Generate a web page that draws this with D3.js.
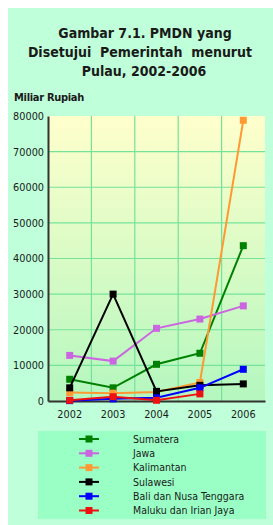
<!DOCTYPE html>
<html>
<head>
<meta charset="utf-8">
<script src="https://cdn.jsdelivr.net/npm/d3@7"></script>
<style>
  body { margin: 0; background: #fff; }
  text { font-family: "DejaVu Sans Condensed", "DejaVu Sans", sans-serif; fill: #1a1a1a; }
</style>
</head>
<body>
<div id="chart"></div>
<script>
// data (Miliar Rupiah)
const years = ["2002", "2003", "2004", "2005", "2006"];
const sumatera = [6100, 3700, 10300, 13400, 43600];
const jawa = [12800, 11200, 20400, 23000, 26700];
const kalimantan = [2400, 2200, 2500, 5200, 78800];
const sulawesi = [3700, 30000, 2700, 4400, 4800];
const bali = [100, 600, 900, 3700, 8900];
const maluku = [200, 1200, 200, 2000, null];
const yTicks = [0, 10000, 20000, 30000, 40000, 50000, 60000, 70000, 80000];

const series = [
    { name: "Sumatera", values: sumatera, color: "#008000" },
    { name: "Jawa", values: jawa, color: "#cc66e0" },
    { name: "Kalimantan", values: kalimantan, color: "#ff9933" },
    { name: "Sulawesi", values: sulawesi, color: "#000000" },
    { name: "Bali dan Nusa Tenggara", values: bali, color: "#0000ff" },
    { name: "Maluku dan Irian Jaya", values: maluku, color: "#ee1111" }
];

const width = 273, height = 525;
const plot = { left: 48, right: 265, top: 116, bottom: 401 };

const svg = d3.select("#chart").append("svg")
    .attr("width", width)
    .attr("height", height);

// outer background
svg.append("rect")
    .attr("x", 8).attr("y", 8)
    .attr("width", width - 8).attr("height", height - 8)
    .attr("fill", "#bfffd9");

// title
const title = ["Gambar 7.1. PMDN yang", "Disetujui  Pemerintah  menurut", "Pulau, 2002-2006"];
const titleX = [145, 140, 144];
svg.append("g").selectAll("text")
    .data(title)
    .enter().append("text")
    .attr("x", (d, i) => titleX[i])
    .attr("y", (d, i) => 38 + i * 19)
    .attr("text-anchor", "middle")
    .style("font-size", "14px")
    .style("font-weight", "bold")
    .style("white-space", "pre")
    .text(d => d);

svg.append("text")
    .attr("x", 14).attr("y", 101)
    .style("font-size", "11px")
    .style("font-weight", "bold")
    .style("letter-spacing", "-0.3px")
    .text("Miliar Rupiah");

// scales
const x = d3.scaleBand().domain(years).range([plot.left, plot.right]);
const y = d3.scaleLinear().domain([0, 80000]).range([plot.bottom, plot.top]);

// plot background gradient
const grad = svg.append("defs").append("linearGradient")
    .attr("id", "bg").attr("x1", 0).attr("y1", 0).attr("x2", 0).attr("y2", 1);
grad.append("stop").attr("offset", "0%").attr("stop-color", "#ffffcc");
grad.append("stop").attr("offset", "100%").attr("stop-color", "#b4f7bf");

svg.append("rect")
    .attr("x", plot.left).attr("y", plot.top)
    .attr("width", plot.right - plot.left).attr("height", plot.bottom - plot.top)
    .attr("fill", "url(#bg)");

// grid
const grid = svg.append("g").attr("stroke", "#74e39a").attr("stroke-width", 1.2);
grid.selectAll(".hg")
    .data(yTicks.filter(t => t > 0 && t < 80000))
    .enter().append("line")
    .attr("x1", plot.left).attr("x2", plot.right)
    .attr("y1", d => y(d)).attr("y2", d => y(d));
grid.selectAll(".vg")
    .data(years.slice(1))
    .enter().append("line")
    .attr("x1", d => x(d)).attr("x2", d => x(d))
    .attr("y1", plot.top).attr("y2", plot.bottom);

// axes
const yAxis = svg.append("g")
    .attr("transform", `translate(${plot.left},0)`)
    .call(d3.axisLeft(y).tickValues(yTicks).tickSize(0).tickPadding(4).tickFormat(d3.format("d")));
yAxis.select(".domain").attr("stroke", "#333").attr("stroke-width", 2);
yAxis.selectAll("text").style("font-size", "10.8px").style("font-family", "'DejaVu Sans Condensed', sans-serif").attr("fill", "#222");

const xAxis = svg.append("g")
    .attr("transform", `translate(0,${plot.bottom})`)
    .call(d3.axisBottom(x).tickSize(0).tickPadding(9));
xAxis.select(".domain").attr("stroke", "#333").attr("stroke-width", 2);
xAxis.selectAll("text").style("font-size", "10.8px").style("font-family", "'DejaVu Sans Condensed', sans-serif").attr("fill", "#222");

// lines and markers
const line = d3.line()
    .defined(d => d.v !== null)
    .x(d => x(d.year) + x.bandwidth() / 2)
    .y(d => y(d.v));

const groups = svg.append("g").selectAll(".series")
    .data(series)
    .enter().append("g");

groups.append("path")
    .attr("fill", "none")
    .attr("stroke", d => d.color)
    .attr("stroke-width", 2)
    .attr("d", d => line(years.map((yr, i) => ({ year: yr, v: d.values[i] }))));

groups.each(function (s) {
    d3.select(this).selectAll("rect")
        .data(years.map((yr, i) => ({ year: yr, v: s.values[i] })).filter(p => p.v !== null))
        .enter().append("rect")
        .attr("x", p => x(p.year) + x.bandwidth() / 2 - 3.5)
        .attr("y", p => y(p.v) - 3.5)
        .attr("width", 7).attr("height", 7)
        .attr("fill", s.color);
});

// legend
svg.append("rect")
    .attr("x", 38).attr("y", 431)
    .attr("width", 228).attr("height", 88)
    .attr("fill", "#9affc5");

const legend = svg.append("g").selectAll(".item")
    .data(series)
    .enter().append("g")
    .attr("transform", (d, i) => `translate(0,${439 + i * 14.3})`);

legend.append("line")
    .attr("x1", 79).attr("x2", 99)
    .attr("stroke", d => d.color).attr("stroke-width", 2);
legend.append("rect")
    .attr("x", 85.5).attr("y", -3.5)
    .attr("width", 7).attr("height", 7)
    .attr("fill", d => d.color);
legend.append("text")
    .attr("x", 133).attr("y", 3.8)
    .style("font-size", "10.5px")
    .attr("fill", "#222")
    .text(d => d.name);
</script>
</body>
</html>
